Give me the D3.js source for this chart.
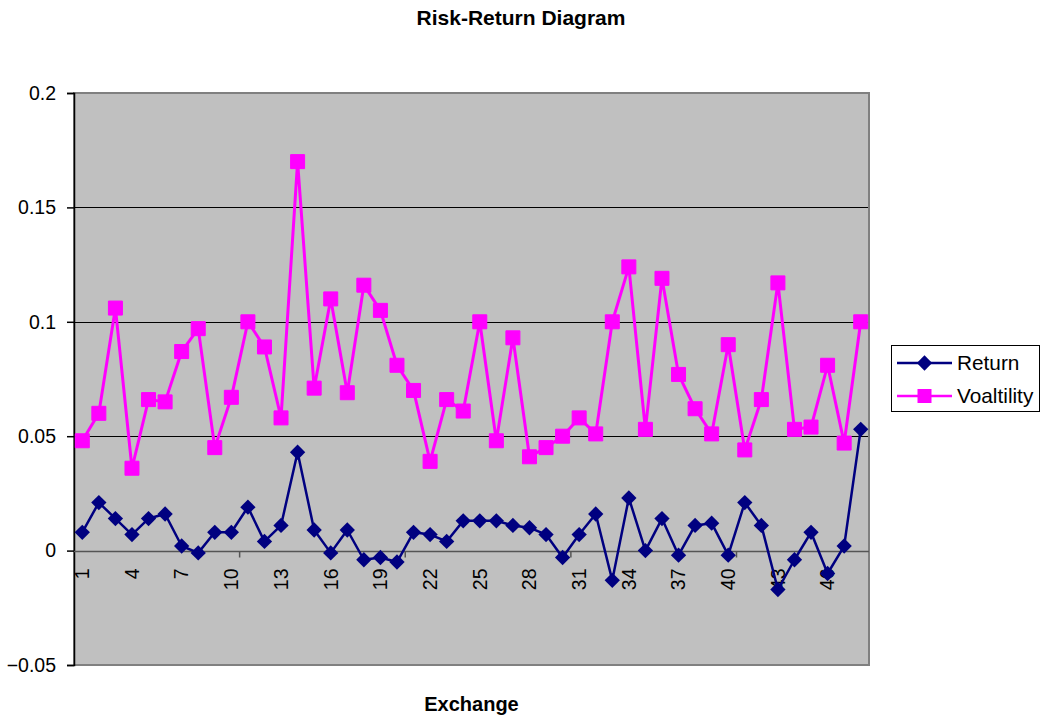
<!DOCTYPE html>
<html>
<head>
<meta charset="utf-8">
<script src="https://cdn.jsdelivr.net/npm/d3@7"></script>
<style>
  html, body { margin: 0; padding: 0; background: #fff; }
  svg { display: block; font-family: Arial, "Liberation Sans", sans-serif; }
</style>
</head>
<body>
<svg id="chart" width="1041" height="715"></svg>
<script>
// Exchanges numbered 1..48
const exchanges = d3.range(1, 49).map(String);

// Mean return per exchange
const returnValues = [
  0.008, 0.021, 0.014, 0.007, 0.014, 0.016, 0.002, -0.001, 0.008, 0.008,
  0.019, 0.004, 0.011, 0.043, 0.009, -0.001, 0.009, -0.004, -0.003, -0.005,
  0.008, 0.007, 0.004, 0.013, 0.013, 0.013, 0.011, 0.010, 0.007, -0.003,
  0.007, 0.016, -0.013, 0.023, 0.000, 0.014, -0.002, 0.011, 0.012, -0.002,
  0.021, 0.011, -0.017, -0.004, 0.008, -0.010, 0.002, 0.053
];

// Volatility per exchange
const volatilityValues = [
  0.048, 0.060, 0.106, 0.036, 0.066, 0.065, 0.087, 0.097, 0.045, 0.067,
  0.100, 0.089, 0.058, 0.170, 0.071, 0.110, 0.069, 0.116, 0.105, 0.081,
  0.070, 0.039, 0.066, 0.061, 0.100, 0.048, 0.093, 0.041, 0.045, 0.050,
  0.058, 0.051, 0.100, 0.124, 0.053, 0.119, 0.077, 0.062, 0.051, 0.090,
  0.044, 0.066, 0.117, 0.053, 0.054, 0.081, 0.047, 0.100
];

// Axis labels
const yTickValues = [-0.05, 0, 0.05, 0.1, 0.15, 0.2];
const xTickLabels = ["1", "4", "7", "10", "13", "16", "19", "22", "25", "28", "31", "34", "37", "40", "43", "46"];
const seriesNames = ["Return", "Voaltility"];

const svg = d3.select("#chart");
const plot = { left: 74, right: 869, top: 93, bottom: 665 };

const x = d3.scaleBand().domain(exchanges).range([plot.left, plot.right]).padding(0);
const y = d3.scaleLinear().domain([-0.05, 0.2]).range([plot.bottom, plot.top]);
const cx = d => x(d) + x.bandwidth() / 2;

// Title
svg.append("text")
  .attr("x", 521).attr("y", 25)
  .attr("text-anchor", "middle")
  .attr("font-size", 21).attr("font-weight", "bold")
  .text("Risk-Return Diagram");

// Plot background
svg.append("rect")
  .attr("x", plot.left).attr("y", plot.top)
  .attr("width", plot.right - plot.left).attr("height", plot.bottom - plot.top)
  .attr("fill", "#c0c0c0");

// Horizontal gridlines
svg.append("g")
  .selectAll("line")
  .data(yTickValues.filter(v => v !== 0 && v !== -0.05 && v !== 0.2))
  .join("line")
  .attr("x1", plot.left).attr("x2", plot.right)
  .attr("y1", d => Math.round(y(d)) + 0.5).attr("y2", d => Math.round(y(d)) + 0.5)
  .attr("stroke", "#000").attr("stroke-width", 1);

// Plot frame
svg.append("rect")
  .attr("x", plot.left).attr("y", plot.top)
  .attr("width", plot.right - plot.left).attr("height", plot.bottom - plot.top)
  .attr("fill", "none").attr("stroke", "#808080").attr("stroke-width", 2);

// Y axis
const yAxis = d3.axisLeft(y)
  .tickValues(yTickValues)
  .tickSize(7)
  .tickPadding(11)
  .tickFormat(d => d3.format("")(+d.toFixed(2)));
const gy = svg.append("g")
  .attr("transform", `translate(${plot.left},0)`)
  .call(yAxis);
gy.select(".domain").attr("stroke", "#000").attr("stroke-width", 1.5);
gy.selectAll(".tick line").attr("stroke", "#000").attr("stroke-width", 1.5);
gy.selectAll(".tick text")
  .attr("font-size", 19.5)
  .attr("font-family", "Arial, 'Liberation Sans', sans-serif")
  .attr("fill", "#000");

// X axis crossing at zero
const y0 = Math.round(y(0)) + 0.5;
svg.append("line")
  .attr("x1", plot.left).attr("x2", plot.right)
  .attr("y1", y0).attr("y2", y0)
  .attr("stroke", "#555").attr("stroke-width", 1.5);

// Tick marks every ten categories, on category boundaries
svg.append("g")
  .selectAll("line")
  .data(exchanges.filter(d => +d % 10 === 0 && +d < 48))
  .join("line")
  .attr("x1", d => x(d) + x.bandwidth()).attr("x2", d => x(d) + x.bandwidth())
  .attr("y1", y0).attr("y2", y0 + 6)
  .attr("stroke", "#555").attr("stroke-width", 1.5);

// Category labels, rotated
svg.append("g")
  .selectAll("text")
  .data(xTickLabels)
  .join("text")
  .attr("transform", d => `translate(${cx(d)},${y0 + 17}) rotate(-90)`)
  .attr("dy", "0.35em")
  .attr("text-anchor", "end")
  .attr("font-size", 19.5)
  .text(d => d);

// Series lines and markers
const line = d3.line().x((v, i) => cx(exchanges[i])).y(v => y(v));

svg.append("path")
  .datum(volatilityValues)
  .attr("d", line)
  .attr("fill", "none").attr("stroke", "#ff00ff").attr("stroke-width", 3)
  .attr("stroke-linejoin", "round");

svg.append("path")
  .datum(returnValues)
  .attr("d", line)
  .attr("fill", "none").attr("stroke", "#000080").attr("stroke-width", 2.5)
  .attr("stroke-linejoin", "round");

const squareSym = d3.symbol().type(d3.symbolSquare).size(196);
const diamondSym = d3.symbol().type(d3.symbolDiamond2).size(150);

svg.append("g")
  .selectAll("path")
  .data(volatilityValues)
  .join("path")
  .attr("transform", (v, i) => `translate(${cx(exchanges[i])},${y(v)})`)
  .attr("d", squareSym)
  .attr("fill", "#ff00ff").attr("stroke", "#ff00ff").attr("stroke-width", 1)
  .attr("stroke-linejoin", "round");

svg.append("g")
  .selectAll("path")
  .data(returnValues)
  .join("path")
  .attr("transform", (v, i) => `translate(${cx(exchanges[i])},${y(v)})`)
  .attr("d", diamondSym)
  .attr("fill", "#000080");

// X axis title
svg.append("text")
  .attr("x", (plot.left + plot.right) / 2).attr("y", 711)
  .attr("text-anchor", "middle")
  .attr("font-size", 20).attr("font-weight", "bold")
  .text("Exchange");

// Legend
const legend = svg.append("g");
legend.append("rect")
  .attr("x", 891.5).attr("y", 345.5).attr("width", 148).attr("height", 66)
  .attr("fill", "#fff").attr("stroke", "#000").attr("stroke-width", 1);

const legendRows = [
  { name: seriesNames[0], color: "#000080", sym: diamondSym, y: 363 },
  { name: seriesNames[1], color: "#ff00ff", sym: squareSym, y: 396 }
];
legendRows.forEach(r => {
  legend.append("line")
    .attr("x1", 897).attr("x2", 952).attr("y1", r.y).attr("y2", r.y)
    .attr("stroke", r.color).attr("stroke-width", 2.5);
  legend.append("path")
    .attr("transform", `translate(924.5,${r.y})`)
    .attr("d", r.sym)
    .attr("fill", r.color);
  legend.append("text")
    .attr("x", 957).attr("y", r.y)
    .attr("dy", "0.35em")
    .attr("font-size", 20.8)
    .text(r.name);
});
</script>
</body>
</html>
